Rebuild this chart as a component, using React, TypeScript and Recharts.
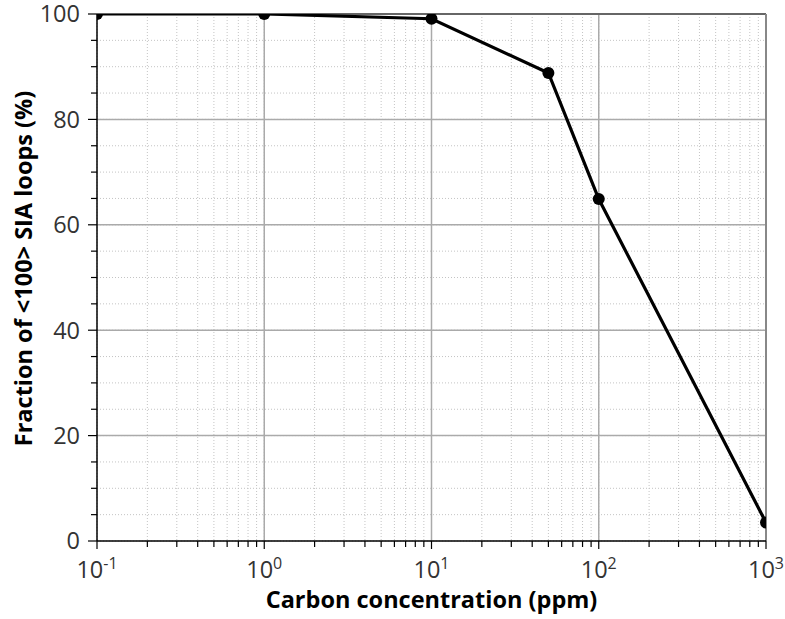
import { LineChart, Line, XAxis, YAxis, CartesianGrid, ReferenceLine, Label } from 'recharts';

// carbon concentration (ppm) vs fraction of <100> loops (%)
const concentration = [0.1, 1, 10, 50, 100, 1000];
const fraction = [100, 100, 99.1, 88.8, 64.9, 3.5];

const xTicks = [
  0.1, 0.2, 0.3, 0.4, 0.5, 0.6, 0.7, 0.8, 0.9,
  1, 2, 3, 4, 5, 6, 7, 8, 9,
  10, 20, 30, 40, 50, 60, 70, 80, 90,
  100, 200, 300, 400, 500, 600, 700, 800, 900,
  1000,
];
const xMajor = [0.1, 1, 10, 100, 1000];
const xExponents = ['-1', '0', '1', '2', '3'];

const yTicks = [0, 5, 10, 15, 20, 25, 30, 35, 40, 45, 50, 55, 60, 65, 70, 75, 80, 85, 90, 95, 100];
const yMajor = [0, 20, 40, 60, 80, 100];

const FONT = '"Open Sans", "DejaVu Sans", sans-serif';
const TICK_COLOR = '#333';

const data = concentration.map((c, i) => ({ c, f: fraction[i] }));

function XTick(props: any) {
  const { x, y, payload } = props;
  const idx = xMajor.findIndex((m) => Math.abs(m - payload.value) < 1e-9);
  const major = idx >= 0;
  return (
    <g>
      <line x1={x} y1={y} x2={x} y2={y + (major ? 8 : 6)} stroke="#000" strokeWidth={1.2} />
      {major && (
        <text x={x} y={y + 37} textAnchor="middle" fill={TICK_COLOR} fontFamily={FONT} fontSize={23.5}>
          <tspan>10</tspan>
          <tspan dy={-9} fontSize={16}>{xExponents[idx]}</tspan>
        </text>
      )}
    </g>
  );
}

function YTick(props: any) {
  const { x, y, payload } = props;
  const major = yMajor.includes(payload.value);
  return (
    <g>
      <line x1={x} y1={y} x2={x - (major ? 9 : 6)} y2={y} stroke="#000" strokeWidth={1.2} />
      {major && (
        <text x={x - 17} y={y} dy="0.36em" textAnchor="end" fill={TICK_COLOR} fontFamily={FONT} fontSize={23.5}>
          {payload.value}
        </text>
      )}
    </g>
  );
}

function YTitle(props: any) {
  const { viewBox } = props;
  const cx = viewBox.x + 32;
  const cy = viewBox.y + viewBox.height / 2 - 9;
  return (
    <text
      x={cx}
      y={cy}
      transform={`rotate(-90, ${cx}, ${cy})`}
      textAnchor="middle"
      fontFamily={FONT}
      fontWeight="bold"
      fontSize={23.5}
      fill="#000"
    >
      {'Fraction of <100> SIA loops (%)'}
    </text>
  );
}

export default function App() {
  return (
    <div style={{ position: 'fixed', left: 0, top: 0, background: '#fff' }}>
      <LineChart width={785} height={619} data={data} margin={{ top: 14, right: 19, bottom: 0, left: 0 }}>
        <CartesianGrid stroke="#c4c4c4" strokeDasharray="1 2" />
        {[1, 10, 100].map((v) => (
          <ReferenceLine key={'vx' + v} x={v} stroke="#aaa" strokeWidth={1.5} />
        ))}
        {[20, 40, 60, 80].map((v) => (
          <ReferenceLine key={'hy' + v} y={v} stroke="#aaa" strokeWidth={1.5} />
        ))}
        <ReferenceLine y={100} stroke="#666" strokeWidth={2} />
        <ReferenceLine x={1000} stroke="#888" strokeWidth={2} />
        <XAxis
          dataKey="c"
          type="number"
          scale="log"
          domain={[0.1, 1000]}
          ticks={xTicks}
          interval={0}
          allowDataOverflow
          height={78}
          tickSize={0}
          tickMargin={0}
          tickLine={false}
          axisLine={{ stroke: '#000', strokeWidth: 1.5 }}
          tick={<XTick />}
        >
          <Label
            value="Carbon concentration (ppm)"
            position="insideBottom"
            offset={11}
            style={{ fontFamily: FONT, fontWeight: 'bold', fontSize: 23.5, fill: '#000' }}
          />
        </XAxis>
        <YAxis
          type="number"
          domain={[0, 100]}
          ticks={yTicks}
          interval={0}
          allowDataOverflow
          width={97}
          tickSize={0}
          tickMargin={0}
          tickLine={false}
          axisLine={{ stroke: '#000', strokeWidth: 1.5 }}
          tick={<YTick />}
        >
          <Label content={<YTitle />} />
        </YAxis>
        <Line
          dataKey="f"
          type="linear"
          stroke="#000"
          strokeWidth={3.2}
          dot={{ r: 6, fill: '#000', stroke: '#000', strokeWidth: 0 }}
          isAnimationActive={false}
        />
      </LineChart>
    </div>
  );
}
